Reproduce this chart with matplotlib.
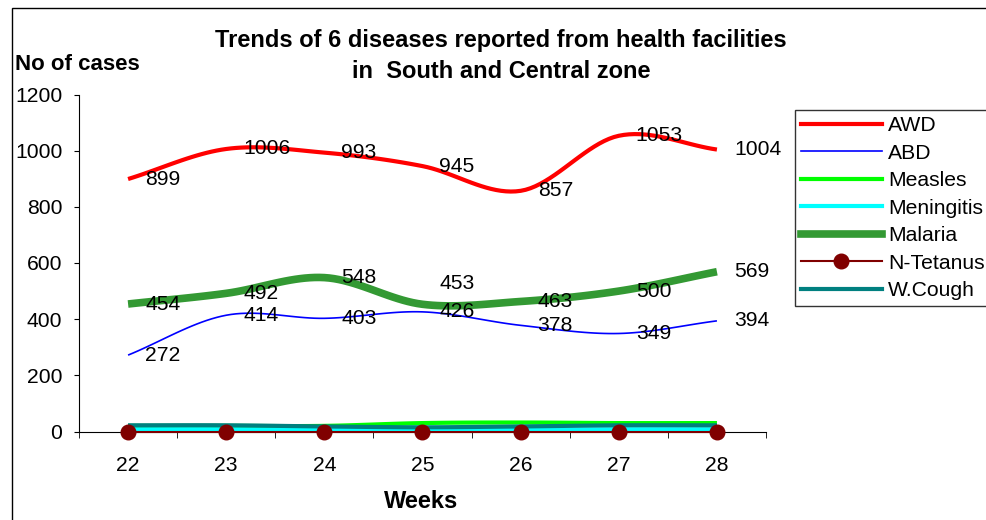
import numpy as np
import matplotlib
matplotlib.use("Agg")
import matplotlib.pyplot as plt
from matplotlib.patches import Rectangle
from matplotlib.lines import Line2D
from matplotlib.transforms import offset_copy

weeks = [22, 23, 24, 25, 26, 27, 28]
awd = [899, 1006, 993, 945, 857, 1053, 1004]
abd = [272, 414, 403, 426, 378, 349, 394]
measles = [20, 20, 20, 30, 32, 30, 30]
meningitis = [8, 8, 6, 5, 6, 8, 8]
malaria = [454, 492, 548, 453, 463, 500, 569]
ntetanus = [0, 0, 0, 0, 0, 0, 0]
wcough = [22, 22, 18, 15, 18, 22, 22]

plt.rcParams['font.family'] = ['Liberation Sans', 'DejaVu Sans']

fig = plt.figure(figsize=(9.87, 5.2), dpi=100)
ax = fig.add_axes([79/987, 88.5/520, 687/987, 337/520])

x = np.arange(len(weeks))


def smooth(xs, ys, n=20):
    xs = np.asarray(xs, float)
    ys = np.asarray(ys, float)
    px = np.concatenate([[2*xs[0]-xs[1]], xs, [2*xs[-1]-xs[-2]]])
    py = np.concatenate([[2*ys[0]-ys[1]], ys, [2*ys[-1]-ys[-2]]])
    ox, oy = [], []
    for i in range(1, len(px)-2):
        t = np.linspace(0, 1, n, endpoint=(i == len(px)-3))
        for arr, out in ((px, ox), (py, oy)):
            p0, p1, p2, p3 = arr[i-1], arr[i], arr[i+1], arr[i+2]
            out.extend(0.5*((2*p1) + (-p0+p2)*t + (2*p0-5*p1+4*p2-p3)*t**2
                            + (-p0+3*p1-3*p2+p3)*t**3))
    return np.array(ox), np.array(oy)


def draw(ys, **kw):
    sx, sy = smooth(x, ys)
    ax.plot(sx, sy, solid_capstyle='butt', **kw)


draw(measles, color='#00ff00', lw=3, zorder=3)
draw(meningitis, color='#00ffff', lw=3, zorder=3)
draw(wcough, color='#008080', lw=3, zorder=3)
ax.plot(x, ntetanus, color='#800000', lw=1.5, marker='o', ms=10.5,
        markerfacecolor='#800000', markeredgecolor='#800000', zorder=4,
        clip_on=False)
draw(malaria, color='#339933', lw=5.5, zorder=3)
draw(awd, color='#ff0000', lw=3, zorder=3)
draw(abd, color='#0000ff', lw=1.2, zorder=3)

# label nudges in pixels (only one label is moved in the reference)
nudge = {('malaria', 3): 21}
for name, series in (('awd', awd), ('abd', abd), ('malaria', malaria)):
    for i, (xi, v) in enumerate(zip(x, series)):
        tr = offset_copy(ax.transData, fig=fig, x=17, y=nudge.get((name, i), 0),
                         units='dots')
        ax.text(xi, v, str(v), fontsize=15.2, ha='left', va='center',
                zorder=5, transform=tr)

ax.set_xlim(-0.5, len(weeks) - 0.5)
ax.set_ylim(0, 1200)
ax.set_yticks(range(0, 1201, 200))
ax.set_xticks(x)
ax.set_xticklabels([str(w) for w in weeks], fontsize=15.2)
ax.set_xticks(np.arange(-0.5, len(weeks)), minor=True)
ax.tick_params(axis='x', which='major', length=0, pad=17.5)
ax.tick_params(axis='x', which='minor', length=4.5, direction='out')
ax.tick_params(axis='y', labelsize=15.2, length=3.6, direction='out', pad=8.4)
for s in ('top', 'right'):
    ax.spines[s].set_visible(False)
ax.spines['left'].set_color('#000000')
ax.spines['bottom'].set_color('#000000')

fig.text(501/987, 1 - 40/520, 'Trends of 6 diseases reported from health facilities',
         ha='center', va='center', fontsize=17, fontweight='bold')
fig.text(501/987, 1 - 72/520, 'in  South and Central zone',
         ha='center', va='center', fontsize=17, fontweight='bold')
fig.text(15/987, 1 - 65/520, 'No of cases', ha='left', va='center',
         fontsize=16, fontweight='bold')
fig.text(421/987, 1 - 502/520, 'Weeks', ha='center', va='center',
         fontsize=17, fontweight='bold')

fig.patches.append(Rectangle((12/987, -0.1), 1.2, 1.1 - 8/520,
                             transform=fig.transFigure, fill=False,
                             edgecolor='black', lw=1))

handles = [
    Line2D([], [], color='#ff0000', lw=3),
    Line2D([], [], color='#0000ff', lw=1.2),
    Line2D([], [], color='#00ff00', lw=3),
    Line2D([], [], color='#00ffff', lw=3),
    Line2D([], [], color='#339933', lw=5.5),
    Line2D([], [], color='#800000', lw=1.5, marker='o', ms=10.5),
    Line2D([], [], color='#008080', lw=3),
]
labels = ['AWD', 'ABD', 'Measles', 'Meningitis', 'Malaria', 'N-Tetanus', 'W.Cough']
leg = fig.legend(handles, labels, loc='upper left',
                 bbox_to_anchor=(795/987, 1 - 110/520), fontsize=15.2,
                 frameon=True, fancybox=False, edgecolor='black',
                 handlelength=3.8, handletextpad=0.3, labelspacing=0.4,
                 borderpad=0.3, borderaxespad=0)
leg.get_frame().set_linewidth(1)

fig.savefig('out.png', dpi=100)
